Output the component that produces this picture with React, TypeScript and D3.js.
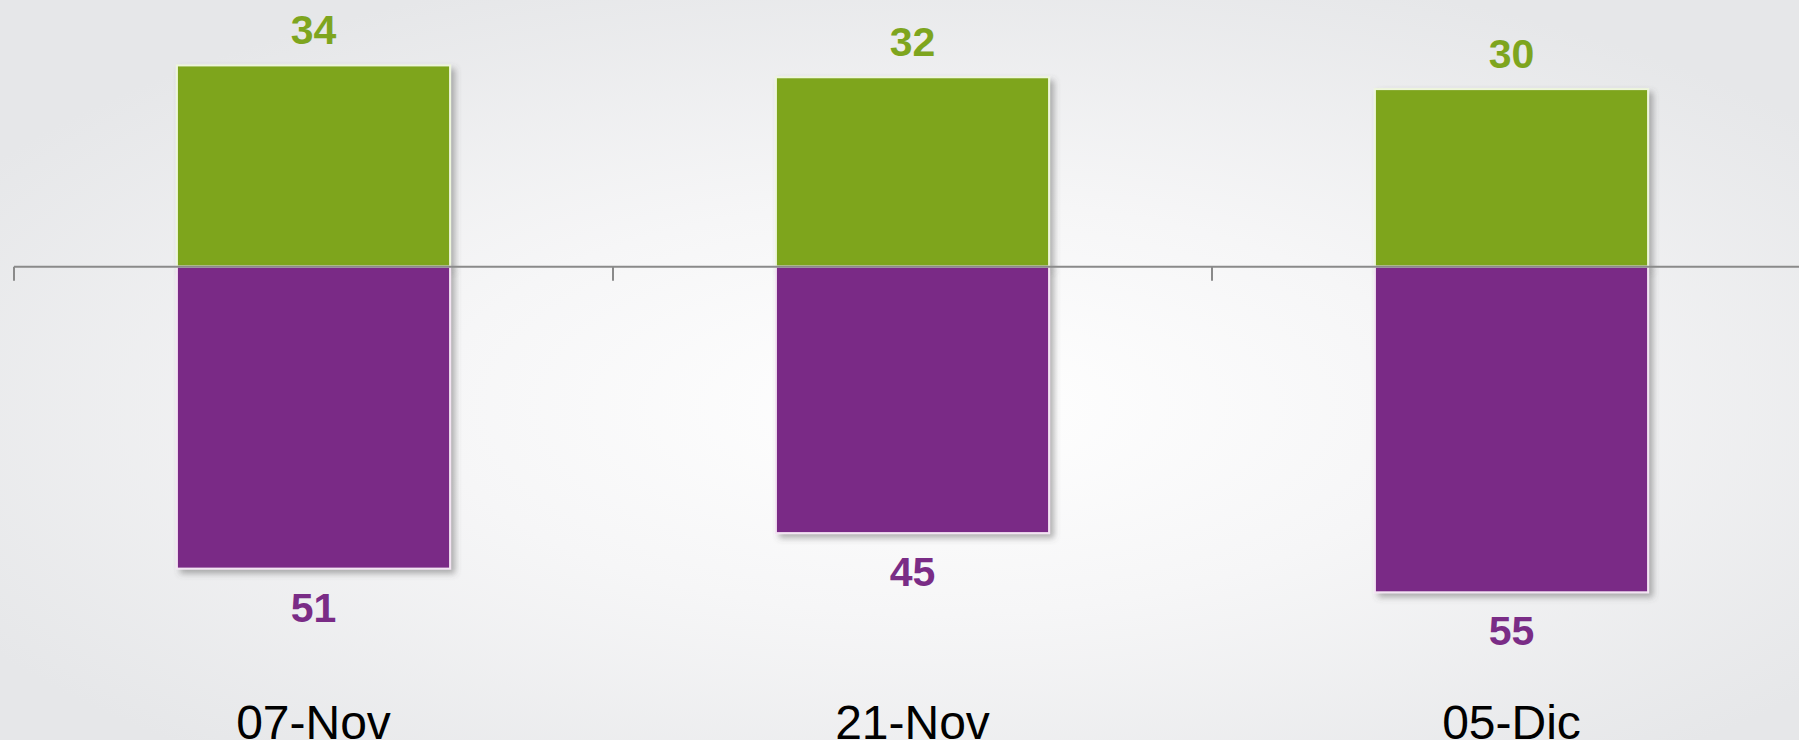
import React from "react";
import * as d3 from "d3";

const categories = ["07-Nov", "21-Nov", "05-Dic"];
const positiveValues = [34, 32, 30];
const negativeValues = [51, 45, 55];

const W = 1799;
const H = 740;

export default function App() {
  const x = d3.scaleBand<string>().domain(categories).range([14, 14 + 3 * 599]).padding(0);
  const y = d3.scaleLinear().domain([-60, 40]).range([266.7 + 60 * 5.92, 266.7 - 40 * 5.92]);
  const barW = x.bandwidth() * 0.456;
  const y0 = y(0);
  const tickXs = [...categories.map((c) => x(c) as number), (x(categories[categories.length - 1]) as number) + x.bandwidth()];
  const green = "#7ea51e";
  const purple = "#7a2c86";

  return (
    <svg width={W} height={H} style={{ position: "absolute", left: 0, top: 0, display: "block" }}>
      <defs>
        <radialGradient id="bg" cx="52%" cy="55%" r="62%" fx="52%" fy="55%">
          <stop offset="0%" stopColor="#ffffff" />
          <stop offset="45%" stopColor="#f6f6f7" />
          <stop offset="100%" stopColor="#e6e7e9" />
        </radialGradient>
        <filter id="sh" x="-10%" y="-10%" width="130%" height="130%">
          <feDropShadow dx="4" dy="4" stdDeviation="3" floodColor="#555" floodOpacity="0.45" />
        </filter>
      </defs>
      <rect x={0} y={0} width={W} height={H} fill="url(#bg)" />
      {categories.map((c, i) => {
        const cx = (x(c) as number) + x.bandwidth() / 2;
        const left = cx - barW / 2;
        const topP = y(positiveValues[i]);
        const botN = y(-negativeValues[i]);
        return (
          <g key={c}>
            <rect x={left} y={topP} width={barW} height={y0 - topP} fill={green} stroke="#eef6dc" strokeWidth={2} filter="url(#sh)" />
            <rect x={left} y={y0} width={barW} height={botN - y0} fill={purple} stroke="#f3e4f3" strokeWidth={2} filter="url(#sh)" />
          </g>
        );
      })}
      <line x1={tickXs[0]} x2={W} y1={y0} y2={y0} stroke="#8a8a8a" strokeWidth={2} />
      {tickXs.map((tx, i) => (
        <line key={i} x1={tx} x2={tx} y1={y0} y2={y0 + 14} stroke="#8a8a8a" strokeWidth={2} />
      ))}
      {categories.map((c, i) => {
        const cx = (x(c) as number) + x.bandwidth() / 2;
        return (
          <g key={"l" + c} fontFamily="'Liberation Sans', Arial, sans-serif" textAnchor="middle">
            <text x={cx} y={y(positiveValues[i]) - 21} fontSize={41} fontWeight="bold" fill={green}>
              {positiveValues[i]}
            </text>
            <text x={cx} y={y(-negativeValues[i]) + 53} fontSize={41} fontWeight="bold" fill={purple}>
              {negativeValues[i]}
            </text>
            <text x={cx} y={739} fontSize={48} fill="#000">
              {c}
            </text>
          </g>
        );
      })}
    </svg>
  );
}
